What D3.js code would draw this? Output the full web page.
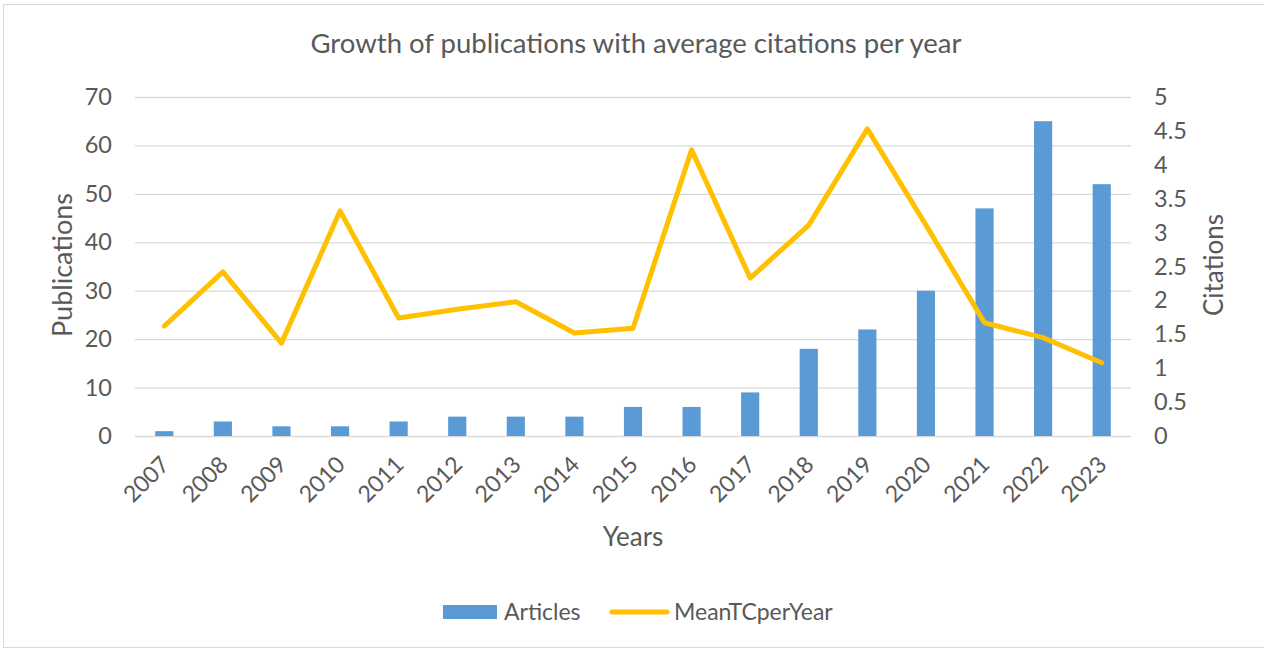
<!DOCTYPE html>
<html>
<head>
<meta charset="utf-8">
<script src="https://cdn.jsdelivr.net/npm/d3@7"></script>
<style>
  html, body { margin: 0; padding: 0; background: #fff; }
  svg { display: block; }
  text { font-family: Lato, "Open Sans", sans-serif; fill: #595959; }
</style>
</head>
<body>
<svg id="chart" width="1264" height="652"></svg>
<script>
// Yearly publication counts and mean total citations per year
const years = ["2007","2008","2009","2010","2011","2012","2013","2014","2015","2016","2017","2018","2019","2020","2021","2022","2023"];
const articles = [1, 3, 2, 2, 3, 4, 4, 4, 6, 6, 9, 18, 22, 30, 47, 65, 52];
const meanTCperYear = [1.62, 2.42, 1.37, 3.32, 1.74, 1.87, 1.98, 1.52, 1.59, 4.22, 2.33, 3.11, 4.53, 3.11, 1.67, 1.45, 1.08];
const leftTicks = [0, 10, 20, 30, 40, 50, 60, 70];
const rightTicks = [0, 0.5, 1, 1.5, 2, 2.5, 3, 3.5, 4, 4.5, 5];

const svg = d3.select("#chart");
const plot = { left: 135, right: 1131, top: 97, bottom: 436 };

// chart frame
svg.append("rect")
  .attr("x", 3.5).attr("y", 4.5)
  .attr("width", 1270).attr("height", 643)
  .attr("fill", "#fff").attr("stroke", "#d9d9d9").attr("stroke-width", 1);

const x = d3.scaleBand().domain(years).range([plot.left, plot.right]).paddingInner(0.69).paddingOuter(0.345);
const xc = d3.scalePoint().domain(years).range([plot.left, plot.right]).padding(0.5);
const yL = d3.scaleLinear().domain([0, 70]).range([plot.bottom, plot.top]);
const yR = d3.scaleLinear().domain([0, 5]).range([plot.bottom, plot.top]);

// gridlines from the left axis
svg.append("g")
  .attr("transform", `translate(${plot.left},0)`)
  .call(d3.axisLeft(yL).tickValues(leftTicks).tickSize(-(plot.right - plot.left)).tickFormat(""))
  .call(g => g.select(".domain").remove())
  .call(g => g.selectAll("line").attr("stroke", "#d9d9d9").attr("stroke-width", 1.3));

// left axis labels
svg.append("g")
  .attr("transform", `translate(${plot.left - 23},0)`)
  .call(d3.axisLeft(yL).tickValues(leftTicks).tickSize(0).tickPadding(0))
  .call(g => g.select(".domain").remove())
  .call(g => g.selectAll("text").style("font-size", "23.5px").attr("fill", "#595959"));

// right axis labels
svg.append("g")
  .attr("transform", `translate(${plot.right + 23},0)`)
  .call(d3.axisRight(yR).tickValues(rightTicks).tickSize(0).tickPadding(0).tickFormat(d3.format("")))
  .call(g => g.select(".domain").remove())
  .call(g => g.selectAll("text").style("font-size", "23.5px").attr("fill", "#595959"));

// x axis labels (rotated)
svg.append("g")
  .attr("transform", `translate(0,${plot.bottom})`)
  .call(d3.axisBottom(xc).tickSize(0).tickPadding(0))
  .call(g => g.select(".domain").remove())
  .call(g => g.selectAll("text")
    .style("font-size", "23px")
    .attr("fill", "#595959")
    .attr("text-anchor", "end")
    .attr("dy", null)
    .attr("transform", "translate(6,30) rotate(-45)"));

// bars
svg.append("g").selectAll("rect")
  .data(years)
  .join("rect")
  .attr("x", d => x(d))
  .attr("width", x.bandwidth())
  .attr("y", (d, i) => yL(articles[i]))
  .attr("height", (d, i) => yL(0) - yL(articles[i]))
  .attr("fill", "#5b9bd5");

// citations line
const line = d3.line()
  .x((d, i) => xc(years[i]))
  .y(d => yR(d));
svg.append("path")
  .datum(meanTCperYear)
  .attr("d", line)
  .attr("fill", "none")
  .attr("stroke", "#ffc000")
  .attr("stroke-width", 5)
  .attr("stroke-linejoin", "round")
  .attr("stroke-linecap", "round");

// titles
svg.append("text")
  .attr("x", 636).attr("y", 53)
  .attr("text-anchor", "middle")
  .style("font-size", "27.5px")
  .text("Growth of publications with average citations per year");

svg.append("text")
  .attr("transform", "translate(72,265) rotate(-90)")
  .attr("text-anchor", "middle")
  .style("font-size", "27px")
  .text("Publications");

svg.append("text")
  .attr("transform", "translate(1223,265) rotate(-90)")
  .attr("text-anchor", "middle")
  .style("font-size", "26px")
  .text("Citations");

svg.append("text")
  .attr("x", 633).attr("y", 546)
  .attr("text-anchor", "middle")
  .style("font-size", "26px")
  .text("Years");

// legend
const legend = svg.append("g");
legend.append("rect")
  .attr("x", 443).attr("y", 605).attr("width", 54).attr("height", 14)
  .attr("fill", "#5b9bd5");
legend.append("text")
  .attr("x", 504).attr("y", 620)
  .style("font-size", "23px")
  .text("Articles");
legend.append("line")
  .attr("x1", 612).attr("x2", 667).attr("y1", 612).attr("y2", 612)
  .attr("stroke", "#ffc000").attr("stroke-width", 5).attr("stroke-linecap", "round");
legend.append("text")
  .attr("x", 674).attr("y", 620)
  .style("font-size", "23px")
  .text("MeanTCperYear");
</script>
</body>
</html>
